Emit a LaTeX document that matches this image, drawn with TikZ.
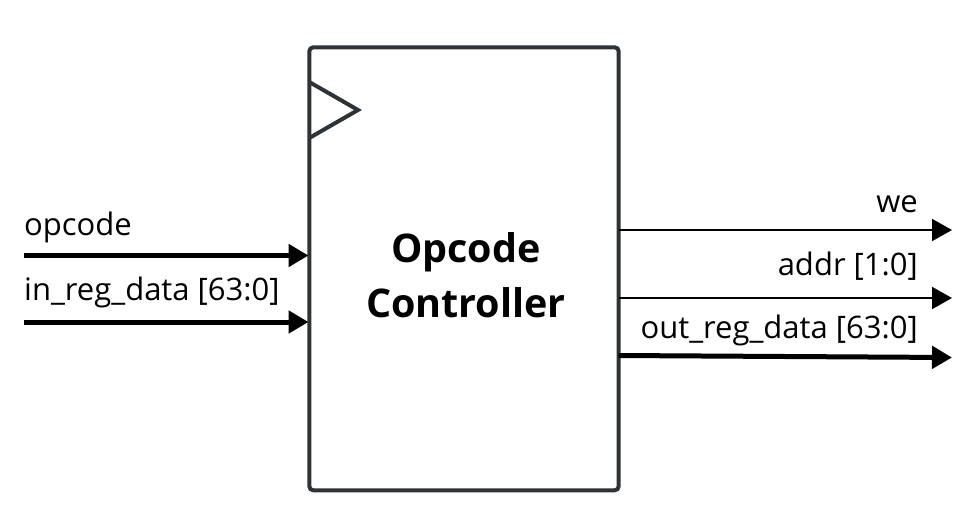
\documentclass[tikz,border=0pt]{standalone}
\usepackage{fontspec}
\setmainfont{Open Sans}
\usetikzlibrary{arrows.meta}
\definecolor{boxcol}{HTML}{2E3338}
\begin{document}
\begin{tikzpicture}[x=1pt,y=-1pt,
  blockbox/.style={draw=boxcol,line width=4pt,rounded corners=4pt,minimum width=309.4pt,minimum height=443pt,inner sep=0pt},
  clockmark/.style={draw=boxcol,line width=4pt,line join=miter},
  thinsig/.style={line width=2pt,-{Triangle[length=20pt,width=22pt]}},
  thicksig/.style={line width=5pt,-{Triangle[length=20pt,width=22pt]}},
  siglabel/.style={inner sep=0pt,font=\fontsize{31}{36}\selectfont},
  titletext/.style={inner sep=0pt,font=\bfseries\fontsize{39.5}{55}\selectfont,align=center}]
\useasboundingbox (0,0) rectangle (980,506);
\node[blockbox] (ctrl) at (464,268.8) {};
\draw[clockmark] (309.3,82) -- (358,110) -- (309.3,138);
\node[titletext,anchor=base] (t1) at (466,262) {Opcode};
\node[titletext,anchor=base] (t2) at (466,317) {Controller};
% inputs
\coordinate (i1s) at (24,255.5);
\coordinate (i1e) at (308.5,255.5);
\coordinate (i2s) at (24,322);
\coordinate (i2e) at (308.5,322);
\draw[thicksig] (i1s) -- (i1e);
\draw[thicksig] (i2s) -- (i2e);
\node[siglabel,anchor=base west] (l1) at (24,235) {opcode};
\node[siglabel,anchor=base west] (l2) at (24,300) {in\_reg\_data [63:0]};
% outputs
\coordinate (o1s) at (618.7,230);
\coordinate (o1e) at (952,230);
\coordinate (o2s) at (618.7,298);
\coordinate (o2e) at (952,298);
\coordinate (o3s) at (618.7,355.5);
\coordinate (o3e) at (952,357.5);
\draw[thinsig] (o1s) -- (o1e);
\draw[thinsig] (o2s) -- (o2e);
\draw[thicksig] (o3s) -- (o3e);
\node[siglabel,anchor=base east] (r1) at (918,212) {we};
\node[siglabel,anchor=base east] (r2) at (918,275) {addr [1:0]};
\node[siglabel,anchor=base east] (r3) at (918,338) {out\_reg\_data [63:0]};
\end{tikzpicture}
\end{document}
